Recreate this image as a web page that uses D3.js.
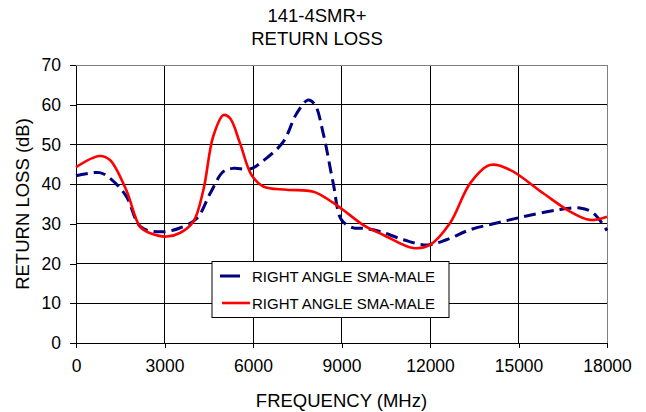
<!DOCTYPE html>
<html>
<head>
<meta charset="utf-8">
<script src="https://cdn.jsdelivr.net/npm/d3@7"></script>
<style>
  body { margin: 0; background: #fff; }
  text { font-family: "Liberation Sans", Arial, sans-serif; fill: #000; }
</style>
</head>
<body>
<div id="chart"></div>
<script>
// values
let blueFreq = [0, 800, 1150, 1700, 2200, 2900, 3500, 4100, 4550, 5000, 5350, 5900, 6450, 7030, 7480, 7870, 8100, 8380, 8720, 9000, 9400, 9740, 10300, 11100, 11900, 12560, 13350, 14260, 15160, 16300, 17080, 17540, 18000];
let blueLoss = [42.1, 42.9, 41.5, 37, 29.2, 28, 28.9, 31.4, 37.7, 43.2, 44, 43.8, 46.5, 50.7, 57.8, 61.2, 60, 52.8, 40.2, 31, 29, 28.9, 28.1, 26, 24.7, 26, 28.5, 30.2, 31.8, 33.5, 34, 32.7, 28.3];

let redFreq = [0, 800, 1150, 1700, 2170, 2500, 3070, 3520, 3980, 4320, 4650, 5000, 5220, 5560, 5950, 6350, 7140, 8050, 8700, 9060, 9740, 10420, 11430, 12000, 12680, 13360, 14030, 14710, 15840, 16750, 17420, 18000];
let redLoss = [44.3, 47.1, 46.1, 38.6, 29.3, 27.7, 26.8, 27.7, 30.6, 38.6, 52, 57.4, 56.6, 50.3, 42.3, 39.4, 38.6, 38.1, 35.4, 33.5, 29.7, 27.2, 23.9, 24.7, 30.2, 40.2, 44.8, 43.6, 37.7, 33.1, 31, 31.8];

let xTicks = [0, 3000, 6000, 9000, 12000, 15000, 18000];
let yTicks = [0, 10, 20, 30, 40, 50, 60, 70];
let seriesNames = ["RIGHT ANGLE SMA-MALE", "RIGHT ANGLE SMA-MALE"];

let margin = {top: 65, right: 39, bottom: 69, left: 76},
    width = 646 - margin.left - margin.right,
    height = 412 - margin.top - margin.bottom;

let svg = d3.select("#chart")
    .append("svg")
    .attr("width", 646)
    .attr("height", 412);

let g = svg.append("g")
    .attr("transform", "translate(" + margin.left + "," + margin.top + ")");

let x = d3.scaleLinear().domain([0, 18000]).range([0, width]);
let y = d3.scaleLinear().domain([0, 70]).range([height, 0]);

// gridlines
g.append("g")
    .selectAll("line")
    .data(yTicks.slice(1, -1))
    .enter().append("line")
    .attr("x1", 0).attr("x2", width)
    .attr("y1", d => y(d)).attr("y2", d => y(d))
    .attr("stroke", "#000").attr("stroke-width", 1)
    .attr("shape-rendering", "crispEdges");

g.append("g")
    .selectAll("line")
    .data(xTicks.slice(1, -1))
    .enter().append("line")
    .attr("y1", 0).attr("y2", height)
    .attr("x1", d => x(d)).attr("x2", d => x(d))
    .attr("stroke", "#000").attr("stroke-width", 1)
    .attr("shape-rendering", "crispEdges");

// plot border (top + right grey)
g.append("path")
    .attr("d", "M0,0H" + width + "V" + height)
    .attr("fill", "none")
    .attr("stroke", "#808080")
    .attr("shape-rendering", "crispEdges");

// axes
let yAxis = g.append("g")
    .call(d3.axisLeft(y).tickValues(yTicks).tickFormat(d3.format("d"))
        .tickSize(6).tickSizeOuter(0).tickPadding(9));
let xAxis = g.append("g")
    .attr("transform", "translate(0," + height + ")")
    .call(d3.axisBottom(x).tickValues(xTicks).tickFormat(d3.format("d"))
        .tickSize(5).tickSizeOuter(0).tickPadding(12));

[yAxis, xAxis].forEach(a => {
    a.select(".domain").attr("stroke", "#000").attr("shape-rendering", "crispEdges");
    a.selectAll(".tick line").attr("stroke", "#000").attr("shape-rendering", "crispEdges");
    a.selectAll("text")
        .style("font-family", "'Liberation Sans', Arial, sans-serif")
        .style("font-size", "17.5px")
        .attr("fill", "#000");
});

// lines
let line = d3.line()
    .x(d => x(d[0]))
    .y(d => y(d[1]))
    .curve(d3.curveCatmullRom.alpha(0.5));

let bluePts = d3.zip(blueFreq, blueLoss);
let redPts = d3.zip(redFreq, redLoss);

g.append("path")
    .datum(bluePts)
    .attr("d", line)
    .attr("fill", "none")
    .attr("stroke", "#000080")
    .attr("stroke-width", 3)
    .attr("stroke-dasharray", "12,6");

g.append("path")
    .datum(redPts)
    .attr("d", line)
    .attr("fill", "none")
    .attr("stroke", "#ff0000")
    .attr("stroke-width", 2.6);

// titles
svg.append("text")
    .attr("x", 317).attr("y", 22)
    .attr("text-anchor", "middle")
    .style("font-size", "18.5px")
    .text("141-4SMR+");
svg.append("text")
    .attr("x", 317).attr("y", 45)
    .attr("text-anchor", "middle")
    .style("font-size", "18.5px")
    .text("RETURN LOSS");

svg.append("text")
    .attr("x", margin.left + width / 2).attr("y", 407)
    .attr("text-anchor", "middle")
    .style("font-size", "18.5px")
    .text("FREQUENCY (MHz)");

svg.append("text")
    .attr("transform", "translate(29," + (margin.top + height / 2) + ") rotate(-90)")
    .attr("text-anchor", "middle")
    .style("font-size", "18.5px")
    .text("RETURN LOSS (dB)");

// legend
let legend = svg.append("g");
legend.append("rect")
    .attr("x", 212).attr("y", 261.5)
    .attr("width", 237).attr("height", 56)
    .attr("fill", "#fff")
    .attr("stroke", "#000")
    .attr("stroke-width", 1);

legend.append("line")
    .attr("x1", 220).attr("x2", 240)
    .attr("y1", 276).attr("y2", 276)
    .attr("stroke", "#000080").attr("stroke-width", 3);
legend.append("line")
    .attr("x1", 222).attr("x2", 250)
    .attr("y1", 303).attr("y2", 303)
    .attr("stroke", "#ff0000").attr("stroke-width", 2.6);

legend.selectAll("text.lg")
    .data(seriesNames)
    .enter().append("text")
    .attr("class", "lg")
    .attr("x", 252)
    .attr("y", (d, i) => 281.5 + i * 27.3)
    .style("font-size", "15px")
    .text(d => d);
</script>
</body>
</html>
